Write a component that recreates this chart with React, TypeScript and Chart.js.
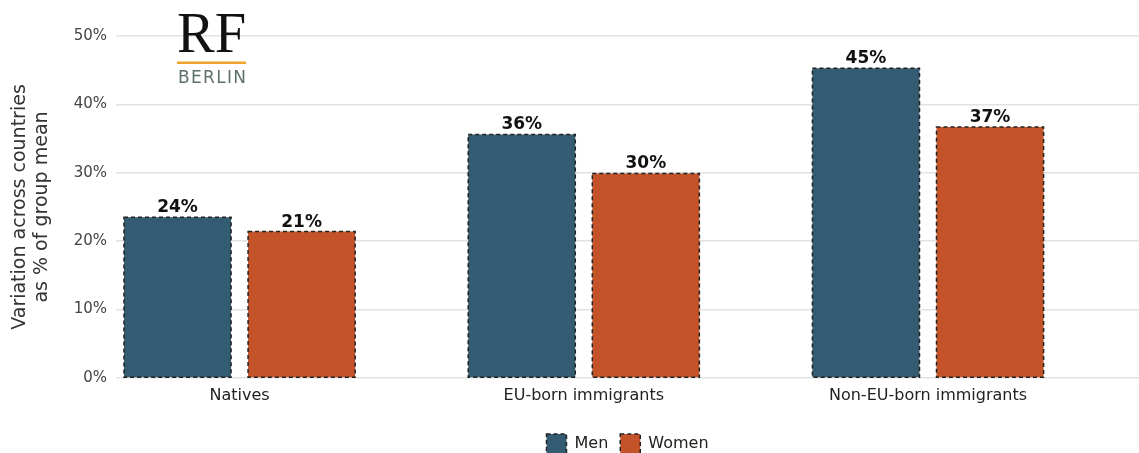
import React, { useEffect, useRef } from "react";
import { Chart, registerables } from "chart.js";

Chart.register(...registerables);

const categories = ["Natives", "EU-born immigrants", "Non-EU-born immigrants"];
const seriesNames = ["Men", "Women"];
const menValues = [23.5, 35.6, 45.3];
const womenValues = [21.4, 29.9, 36.7];
const yTicks = [0, 10, 20, 30, 40, 50];
const yTitle = ["Variation across countries", "as % of group mean"];

const COLORS = ["#335b72", "#c5532a"];
const FONT = "'DejaVu Sans', sans-serif";

export default function App() {
  const ref = useRef<HTMLCanvasElement | null>(null);

  useEffect(() => {
    document.body.style.margin = "0";
    const canvas = ref.current;
    if (!canvas) return;

    const dashedBorders = {
      id: "dashedBorders",
      afterDatasetsDraw(chart: any) {
        const ctx = chart.ctx;
        ctx.save();
        chart.data.datasets.forEach((ds: any, di: number) => {
          const meta = chart.getDatasetMeta(di);
          meta.data.forEach((bar: any, i: number) => {
            const { x, y, base, width } = bar.getProps(["x", "y", "base", "width"], true);
            ctx.setLineDash([4, 3]);
            ctx.lineWidth = 1.5;
            ctx.strokeStyle = "#222";
            ctx.strokeRect(x - width / 2, y, width, base - y);
            ctx.setLineDash([]);
            ctx.fillStyle = "#111";
            ctx.font = `bold 17px ${FONT}`;
            ctx.textAlign = "center";
            ctx.textBaseline = "alphabetic";
            const v = ds.data[i].y;
            ctx.fillText(`${Math.round(v)}%`, x, y - 5);
          });
        });
        ctx.restore();
      },
    };

    const shiftLegend = {
      id: "shiftLegend",
      afterLayout(chart: any) {
        const lg = chart.legend;
        if (lg) {
          lg.top += 11;
          lg.bottom += 11;
        }
      },
    };

    const logo = {
      id: "logo",
      afterDraw(chart: any) {
        const ctx = chart.ctx;
        ctx.save();
        ctx.fillStyle = "#111";
        ctx.font = `56px 'Liberation Serif', 'DejaVu Serif', serif`;
        ctx.textAlign = "left";
        ctx.textBaseline = "alphabetic";
        const rfW = ctx.measureText("RF").width;
        ctx.save();
        ctx.translate(177, 52);
        ctx.scale(69 / rfW, 1);
        ctx.fillText("RF", 0, 0);
        ctx.restore();
        ctx.fillStyle = "#eea32c";
        ctx.fillRect(177, 61.5, 69, 2.5);
        ctx.fillStyle = "#5e706b";
        ctx.font = `17px 'DejaVu Sans', sans-serif`;
        (ctx as any).letterSpacing = "0px";
        const bw = ctx.measureText("BERLIN").width;
        const ls = (68 - bw) / 5;
        (ctx as any).letterSpacing = `${ls}px`;
        ctx.fillText("BERLIN", 178, 83);
        ctx.restore();
      },
    };

    const chart = new Chart(canvas, {
      type: "bar",
      data: {
        datasets: [
          {
            label: seriesNames[0],
            data: menValues.map((v, i) => ({ x: i + 1, y: v })),
            backgroundColor: COLORS[0],
            borderWidth: 0,
          },
          {
            label: seriesNames[1],
            data: womenValues.map((v, i) => ({ x: i + 1, y: v })),
            backgroundColor: COLORS[1],
            borderWidth: 0,
          },
        ],
      },
      options: {
        responsive: false,
        animation: false,
        categoryPercentage: 0.721,
        barPercentage: 0.863,
        layout: { padding: { left: 0, right: 0, top: 36, bottom: 0 } },
        scales: {
          x: {
            type: "linear",
            offset: false,
            min: 0.641,
            max: 3.613,
            grid: { display: false },
            border: { display: false },
            afterBuildTicks: (s: any) => {
              s.ticks = categories.map((_, i) => ({ value: i + 1 }));
            },
            afterFit: (s: any) => {
              s.height = 33;
            },
            ticks: {
              color: "#222",
              font: { family: FONT, size: 16 },
              padding: 0,
              maxRotation: 0,
              autoSkip: false,
              callback: (v: any) => categories[Math.round(Number(v)) - 1] ?? "",
            },
          },
          y: {
            min: 0,
            max: 50,
            afterBuildTicks: (s: any) => {
              s.ticks = yTicks.map((v) => ({ value: v }));
            },
            afterFit: (s: any) => {
              s.width = 116;
            },
            grid: { color: "#e2e2e2", lineWidth: 1.5, drawTicks: false },
            border: { display: false },
            ticks: {
              color: "#444",
              font: { family: FONT, size: 15 },
              padding: 9,
              callback: (v: any) => `${v}%`,
            },
            title: {
              display: true,
              text: yTitle,
              color: "#333",
              font: { family: FONT, size: 19, lineHeight: 1.16 },
              padding: { top: 9, bottom: 0 },
            },
          },
        },
        plugins: {
          legend: {
            position: "bottom",
            fullSize: false,
            labels: {
              color: "#222",
              font: { family: FONT, size: 16 },
              boxWidth: 20,
              boxHeight: 20,
              padding: 12,
              generateLabels: () =>
                seriesNames.map((n, i) => ({
                  text: n,
                  fillStyle: COLORS[i],
                  strokeStyle: "#222",
                  lineWidth: 1.5,
                  lineDash: [4, 3],
                  hidden: false,
                  datasetIndex: i,
                  fontColor: "#222",
                })),
            },
          },
          tooltip: { enabled: false },
        },
      },
      plugins: [dashedBorders, shiftLegend, logo],
    } as any);

    return () => chart.destroy();
  }, []);

  return (
    <div style={{ width: 1139, height: 453 }}>
      <canvas ref={ref} width={1139} height={453} />
    </div>
  );
}
